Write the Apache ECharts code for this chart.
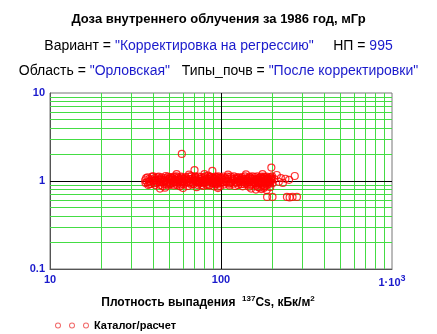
<!DOCTYPE html>
<html>
<head>
<meta charset="utf-8">
<script src="https://cdn.jsdelivr.net/npm/echarts@6/dist/echarts.min.js"></script>
<style>
  html, body { margin: 0; padding: 0; background: #fff; }
  #main { width: 437px; height: 334px; }
</style>
</head>
<body>
<div id="main"></div>
<script>
// density of 137Cs (kBq/m2) vs internal dose (mGy)
var catalogPoints = [
  [36,1.02],[37,0.97],[38,1.05],[39,0.93],[40,1.0],[41,1.08],[42,0.95],[43,1.03],[44,0.9],[45,1.1],
  [46,0.98],[47,1.04],[48,0.92],[49,1.12],[50,1.0],[51,0.95],[52,1.07],[53,0.89],[54,1.02],[55,1.13],
  [56,0.96],[57,1.05],[58,0.91],[59,1.09],[60,1.0],[61,0.94],[62,1.11],[63,1.03],[64,0.88],[65,1.06],
  [66,0.97],[67,1.14],[68,1.01],[69,0.92],[70,1.08],[71,0.99],[72,1.04],[73,0.9],[74,1.12],[75,1.0],
  [76,0.95],[77,1.07],[78,1.02],[79,0.88],[80,1.1],[81,0.97],[82,1.05],[83,0.93],[84,1.15],[85,1.01],
  [86,0.9],[87,1.06],[88,0.96],[89,1.09],[90,1.0],[91,0.87],[92,1.04],[93,1.12],[94,0.94],[95,1.02],
  [96,0.86],[97,1.07],[98,0.99],[99,1.1],[100,0.95],
  [102,1.03],[104,0.91],[106,1.08],[108,0.97],[110,1.05],[112,0.89],[114,1.12],[116,1.0],[118,0.93],[120,1.06],
  [122,0.98],[124,1.1],[126,0.9],[128,1.03],[130,0.96],[132,1.08],[134,0.87],[136,1.01],[138,1.13],[140,0.94],
  [142,1.05],[144,0.99],[146,0.86],[148,1.09],[150,1.02],[152,0.92],[154,1.06],[156,0.97],[158,1.11],[160,0.89],
  [162,1.03],[164,0.95],[166,1.08],[168,0.84],[170,1.0],[172,1.12],[174,0.93],[176,1.05],[178,0.87],[180,1.09],
  [182,0.98],[184,1.03],[186,0.9],[188,1.07],[190,0.96],[192,1.1],[194,0.85],[196,1.02],[198,1.06],[200,0.94],
  [36.5,1.08],[37.5,0.9],[38.5,1.0],[39.5,1.12],[40.5,0.94],[41.5,1.03],[42.5,1.1],[43.5,0.97],[44.5,1.06],[45.5,0.88],
  [46.5,1.01],[47.5,1.14],[48.5,0.95],[49.5,1.05],[50.5,0.92],[51.5,1.1],[52.5,0.99],[53.5,1.04],[54.5,0.93],[55.5,1.07],
  [56.5,1.0],[57.5,0.87],[58.5,1.12],[59.5,0.96],[61,1.05],[63,0.98],[65,1.12],[67,0.91],[69,1.04],[71,1.1],
  [73,0.97],[75,1.06],[77,0.9],[79,1.02],[81,1.13],[83,0.99],[85,0.89],[87,1.11],[89,0.95],[91,1.06],
  [93,0.92],[95,1.1],[97,0.98],[99,0.88],[101,1.08],[105,0.97],[109,1.12],[113,0.94],[117,1.04],[121,0.88],
  [125,1.07],[129,0.99],[133,1.11],[137,0.92],[141,1.02],[145,1.08],[149,0.9],[153,1.13],[157,0.99],[161,1.05],
  [165,0.91],[169,1.1],[173,0.97],[177,1.04],[181,0.86],[185,1.12],[189,1.0],[193,0.93],[197,1.1],
  [36.2,0.95],[37.2,1.1],[38.2,0.92],[39.2,1.04],[40.2,1.13],[41.2,0.9],[42.2,1.0],[43.2,1.12],[44.2,0.99],[45.2,1.03],
  [46.2,0.93],[47.2,1.08],[48.2,1.01],[49.2,0.89],[50.2,1.1],[51.2,1.03],[52.2,0.94],[53.2,1.12],[54.2,0.97],[55.2,0.9],
  [56.2,1.1],[57.2,1.02],[58.2,0.97],[59.2,1.05],[60.5,0.91],[62.5,1.07],[64.5,1.0],[66.5,1.05],[68.5,0.94],[70.5,1.13],
  [72.5,1.0],[74.5,0.93],[76.5,1.11],[78.5,0.96],[80.5,1.04],[82.5,0.9],[84.5,1.06],[86.5,1.12],[88.5,1.02],[90.5,0.94],
  [92.5,1.08],[94.5,1.0],[96.5,1.13],[98.5,0.93],[103,1.12],[107,1.0],[111,0.93],[115,1.07],[119,1.13],[123,0.95],
  [127,1.1],[131,0.92],[135,1.05],[139,1.0],[143,0.91],[147,1.12],[151,0.97],[155,1.02],[159,0.94],[163,1.13],
  [167,0.98],[171,1.06],[175,0.9],[179,1.12],[183,1.05],[187,0.94],[191,1.03],[195,0.97],[199,1.13],
  [38,0.98],[41,1.01],[44,1.04],[47,0.99],[50,1.06],[53,0.98],[56,1.03],[59,0.99],[62,1.01],[65,0.95],
  [68,1.06],[71,1.02],[74,0.97],[77,1.01],[80,0.96],[83,1.07],[86,1.0],[89,1.02],[92,0.97],[95,0.93],
  [98,1.04],[103,0.98],[107,1.05],[111,1.0],[115,0.96],[119,1.02],[123,1.05],[127,0.98],[131,1.03],[135,0.97],
  [139,1.06],[143,1.02],[147,0.97],[151,1.06],[155,0.95],[159,1.03],[163,0.98],[167,1.02],[171,0.95],[175,1.07],
  [179,1.0],[183,0.93],[187,1.04],[191,0.99],[195,1.05]
];
var belowBand = [[44,0.82],[47,0.84],[60,0.83],[72,0.85],[96,0.83],[150,0.82],[160,0.8],[165,0.85],[172,0.81],[178,0.83],[185,0.79]];
var aboveBand = [[55,1.2],[65,1.18],[80,1.2],[110,1.18],[140,1.19],[175,1.2]];
var rightTail = [[205,1.05],[212,1.17],[218,0.98],[224,1.08],[230,0.95],[238,1.06],[250,1.03],[270,1.14]];
var lowPoints = [[186,0.66],[200,0.66],[243,0.66],[252,0.65],[262,0.66],[278,0.66]];
var highPoints = [[59,2.03],[70,1.33],[89,1.3],[197,1.42]];

var xMinorLines = [20,30,40,50,60,70,80,90,200,300,400,500,600,700,800,900];
var yMinorLines = [0.2,0.3,0.4,0.5,0.6,0.7,0.8,0.9,2,3,4,5,6,7,8,9];
var xMajorLine = 100;
var yMajorLine = 1;

var allPoints = catalogPoints.concat(belowBand, aboveBand, rightTail, lowPoints, highPoints);

var green = '#44dd44';
var blue = '#1a1acc';
var font = '"Liberation Sans", Arial, sans-serif';

var gridLines = [];
xMinorLines.forEach(function (v) { gridLines.push({ xAxis: v }); });
yMinorLines.forEach(function (v) { gridLines.push({ yAxis: v }); });
gridLines.push({ xAxis: xMajorLine, lineStyle: { color: '#000' } });
gridLines.push({ yAxis: yMajorLine, lineStyle: { color: '#000' } });

var myChart = echarts.init(document.getElementById('main'));
var option = {
  animation: false,
  textStyle: { fontFamily: font },
  title: [
    {
      text: 'Доза внутреннего облучения за 1986 год, мГр',
      left: 'center', top: 8,
      textStyle: { fontSize: 13, fontWeight: 'bold', color: '#000', fontFamily: font }
    },
    {
      text: 'Вариант = {b|"Корректировка на регрессию"}     НП = {b|995}',
      left: 'center', top: 34,
      textStyle: { fontSize: 14, fontWeight: 'normal', color: '#000', fontFamily: font,
        rich: { b: { color: blue, fontSize: 14, fontFamily: font } } }
    },
    {
      text: 'Область = {b|"Орловская"}   Типы_почв = {b|"После корректировки"}',
      left: 'center', top: 59,
      textStyle: { fontSize: 14, fontWeight: 'normal', color: '#000', fontFamily: font,
        rich: { b: { color: blue, fontSize: 14, fontFamily: font } } }
    }
  ],
  legend: {
    left: 50, top: 315,
    itemWidth: 34, itemHeight: 6,
    data: [{
      name: 'Каталог/расчет',
      icon: 'path://M0,3 A3,3 0 1,1 6,3 A3,3 0 1,1 0,3 Z M1,3 A2,2 0 1,0 5,3 A2,2 0 1,0 1,3 Z M14,3 A3,3 0 1,1 20,3 A3,3 0 1,1 14,3 Z M15,3 A2,2 0 1,0 19,3 A2,2 0 1,0 15,3 Z M28,3 A3,3 0 1,1 34,3 A3,3 0 1,1 28,3 Z M29,3 A2,2 0 1,0 33,3 A2,2 0 1,0 29,3 Z',
      itemStyle: { color: '#ee4444', borderWidth: 0 }
    }],
    textStyle: { fontSize: 11, fontWeight: 'bold', color: '#000', fontFamily: font }
  },
  grid: {
    left: 50, right: 45, top: 93, bottom: 65,
    show: true, borderColor: '#777', borderWidth: 1
  },
  xAxis: {
    type: 'log', logBase: 10, min: 10, max: 1000,
    axisLine: { show: true, lineStyle: { color: '#555' } },
    axisTick: { show: false },
    splitLine: { show: false },
    axisLabel: {
      color: blue, fontWeight: 'bold', fontSize: 11, margin: 5, fontFamily: font,
      formatter: function (v) {
        if (v >= 999) return '1·10{s|3}';
        return String(Math.round(v));
      },
      rich: { s: { color: blue, fontWeight: 'bold', fontSize: 9, verticalAlign: 'top', padding: [0, 0, 8, 0], fontFamily: font } }
    },
    name: 'Плотность выпадения  {s|137}Cs, кБк/м{s|2}',
    nameLocation: 'middle', nameGap: 26,
    nameTextStyle: {
      fontSize: 12, fontWeight: 'bold', color: '#000', fontFamily: font, padding: [0, 26, 0, 0],
      rich: { s: { fontSize: 8, fontWeight: 'bold', color: '#000', padding: [0, 0, 8, 0], fontFamily: font } }
    }
  },
  yAxis: {
    type: 'log', logBase: 10, min: 0.1, max: 10,
    axisLine: { show: true, lineStyle: { color: '#555' } },
    axisTick: { show: false },
    splitLine: { show: false },
    axisLabel: {
      color: blue, fontWeight: 'bold', fontSize: 11, margin: 5, fontFamily: font,
      formatter: function (v) {
        if (v < 0.5) return '0.1';
        return String(Math.round(v));
      }
    }
  },
  series: [{
    name: 'Каталог/расчет',
    type: 'scatter',
    z: 10,
    symbol: 'circle',
    symbolSize: 7,
    itemStyle: { color: 'rgba(0,0,0,0)', borderColor: '#ff0000', borderWidth: 1.2 },
    data: allPoints,
    markLine: {
      silent: true,
      symbol: 'none',
      label: { show: false },
      lineStyle: { color: green, width: 1, type: 'solid' },
      data: gridLines
    }
  }]
};
myChart.setOption(option);
</script>
</body>
</html>
